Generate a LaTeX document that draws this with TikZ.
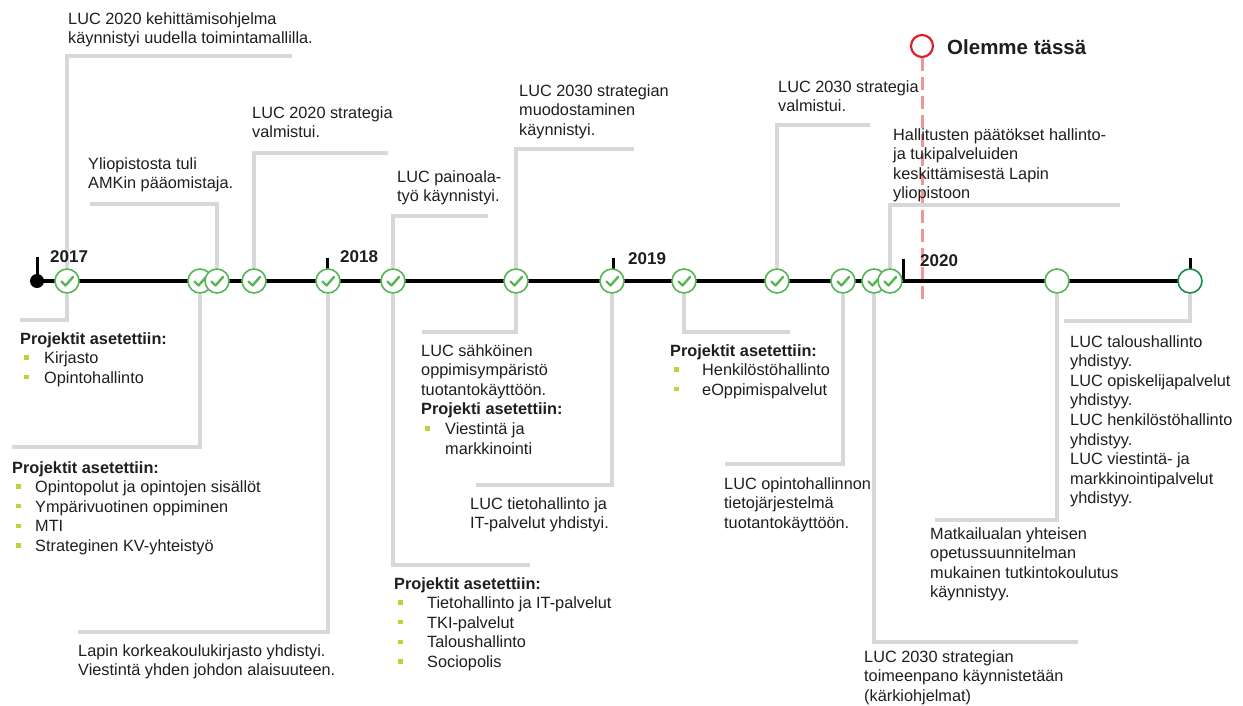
\documentclass[tikz,border=0pt]{standalone}
\usepackage{fontspec}
\setmainfont{Liberation Sans}
\usetikzlibrary{positioning}

\definecolor{txtcol}{RGB}{30,30,30}
\definecolor{linegray}{RGB}{216,216,216}
\definecolor{chkgreen}{RGB}{86,182,86}
\definecolor{endgreen}{RGB}{28,140,78}
\definecolor{herered}{RGB}{222,32,40}
\definecolor{dashred}{RGB}{240,150,150}
\definecolor{bulcol}{RGB}{186,212,58}

% bullet with text indent
\newcommand{\blt}[1]{\makebox[#1][l]{\hspace*{4pt}\textcolor{bulcol}{\rule[3.8pt]{4.5pt}{4.5pt}}}}

\begin{document}
\begin{tikzpicture}[
        x=1pt, y=-1pt,
        txt/.style={anchor=north west, inner sep=0pt, align=left, text=txtcol,
            font=\fontsize{16.3}{19.6}\selectfont},
        year/.style={anchor=west, inner sep=0pt, text=txtcol,
            font=\fontsize{17}{20}\selectfont\bfseries},
        check/.style={circle, draw=chkgreen, fill=white, line width=1.6pt,
            minimum size=24pt, inner sep=0pt,
            path picture={\draw[chkgreen, line width=2.4pt, line cap=round, line join=round]
                ([shift={(-5.5,0.5)}]path picture bounding box.center) -- ++(4,4) -- ++(7.5,-8.5);}},
        planned/.style={circle, draw=chkgreen, fill=white, line width=1.6pt,
            minimum size=24pt, inner sep=0pt},
        conn/.style={draw=linegray, line width=3.5pt},
        yeartick/.style={line width=3pt, black}
    ]
    \useasboundingbox (0,0) rectangle (1243,705);

    % We are here
    \node[circle, draw=herered, line width=2.2pt, minimum size=22pt, inner sep=0pt] (here) at (922,46) {};
    \node[anchor=west, inner sep=0pt, text=txtcol, font=\fontsize{20.5}{24}\selectfont\bfseries] (heretxt) at (947,47) {Olemme tässä};
    \coordinate (hereend) at (922,302);
    \draw[dashred, line width=3pt, dash pattern=on 13pt off 6pt] (here) -- (hereend);

    % Timeline
    \coordinate (tstart) at (37,281);
    \coordinate (tend) at (1190,281);
    \draw[line width=4.8pt] (tstart) -- (tend);
    \node[circle, fill=black, minimum size=14pt, inner sep=0pt] (s0) at (tstart) {};
    \foreach \x/\top in {37/257, 327/258, 613/258, 903/259, 1190/258}
        \draw[yeartick] (\x,281) -- (\x,\top);

    \foreach \x [count=\i] in {67,200,217,254,328,393,516,612,684,777,843,874,890}
        \node[check] (c\i) at (\x,281) {};
    \node[planned] (e1) at (1057,281) {};
    \node[planned, draw=endgreen] (e2) at (tend) {};

    % Connectors above
    \coordinate (a1) at (292,56);
    \coordinate (a2) at (90,204);
    \coordinate (a3) at (388,153);
    \coordinate (a4) at (488,216);
    \coordinate (a5) at (634,149);
    \coordinate (a6) at (870,125);
    \coordinate (a7) at (1120,205);
    \draw[conn] (c1) |- (a1);
    \draw[conn] (c3) |- (a2);
    \draw[conn] (c4) |- (a3);
    \draw[conn] (c6) |- (a4);
    \draw[conn] (c7) |- (a5);
    \draw[conn] (c10) |- (a6);
    \draw[conn] (c13) |- (a7);

    % Connectors below
    \coordinate (b1) at (20,320);
    \coordinate (b2) at (12,447);
    \coordinate (b3) at (78,632);
    \coordinate (b4) at (530,565);
    \coordinate (b5) at (422,332);
    \coordinate (b6) at (476,485);
    \coordinate (b7) at (790,332);
    \coordinate (b8) at (725,464);
    \coordinate (b9) at (1078,642);
    \coordinate (b10) at (935,520);
    \coordinate (b11) at (1064,321);
    \draw[conn] (c1) |- (b1);
    \draw[conn] (c2) |- (b2);
    \draw[conn] (c5) |- (b3);
    \draw[conn] (c6) |- (b4);
    \draw[conn] (c7) |- (b5);
    \draw[conn] (c8) |- (b6);
    \draw[conn] (c9) |- (b7);
    \draw[conn] (c11) |- (b8);
    \draw[conn] (c12) |- (b9);
    \draw[conn] (e1) |- (b10);
    \draw[conn] (e2) |- (b11);

    % Years
    \node[year] (y17) at (50,257) {2017};
    \node[year] (y18) at (340,257) {2018};
    \node[year] (y19) at (628,259) {2019};
    \node[year] (y20) at (920,261) {2020};

    % Texts above
    \node[txt] (ta1) at (68,12) {LUC 2020 kehittämisohjelma\\käynnistyi uudella toimintamallilla.};
    \node[txt] (ta2) at (88,157) {Yliopistosta tuli\\AMKin pääomistaja.};
    \node[txt] (ta3) at (252,106) {LUC 2020 strategia\\valmistui.};
    \node[txt] (ta4) at (397,170) {LUC painoala-\\työ käynnistyi.};
    \node[txt] (ta5) at (519,84) {LUC 2030 strategian\\muodostaminen\\käynnistyi.};
    \node[txt] (ta6) at (778,80) {LUC 2030 strategia\\valmistui.};
    \node[txt] (ta7) at (893,128) {Hallitusten päätökset hallinto-\\ja tukipalveluiden\\keskittämisestä Lapin\\yliopistoon};

    % Texts below
    \node[txt] (tb1) at (20,332) {\textbf{Projektit asetettiin:}\\\blt{24pt}Kirjasto\\\blt{24pt}Opintohallinto};
    \node[txt] (tb2) at (12,461) {\textbf{Projektit asetettiin:}\\\blt{23pt}Opintopolut ja opintojen sisällöt\\\blt{23pt}Ympärivuotinen oppiminen\\\blt{23pt}MTI\\\blt{23pt}Strateginen KV-yhteistyö};
    \node[txt] (tb3) at (78,644) {Lapin korkeakoulukirjasto yhdistyi.\\Viestintä yhden johdon alaisuuteen.};
    \node[txt] (tb4) at (394,577) {\textbf{Projektit asetettiin:}\\\blt{33pt}Tietohallinto ja IT-palvelut\\\blt{33pt}TKI-palvelut\\\blt{33pt}Taloushallinto\\\blt{33pt}Sociopolis};
    \node[txt] (tb5) at (421,344) {LUC sähköinen\\oppimisympäristö\\tuotantokäyttöön.\\\textbf{Projekti asetettiin:}\\\blt{24pt}Viestintä ja\\\hspace*{24pt}markkinointi};
    \node[txt] (tb6) at (470,497) {LUC tietohallinto ja\\IT-palvelut yhdistyi.};
    \node[txt] (tb7) at (670,344) {\textbf{Projektit asetettiin:}\\\blt{32pt}Henkilöstöhallinto\\\blt{32pt}eOppimispalvelut};
    \node[txt] (tb8) at (724,477) {LUC opintohallinnon\\tietojärjestelmä\\tuotantokäyttöön.};
    \node[txt] (tb9) at (864,650) {LUC 2030 strategian\\toimeenpano käynnistetään\\(kärkiohjelmat)};
    \node[txt] (tb10) at (930,527) {Matkailualan yhteisen\\opetussuunnitelman\\mukainen tutkintokoulutus\\käynnistyy.};
    \node[txt] (tb11) at (1070,335) {LUC taloushallinto\\yhdistyy.\\LUC opiskelijapalvelut\\yhdistyy.\\LUC henkilöstöhallinto\\yhdistyy.\\LUC viestintä- ja\\markkinointipalvelut\\yhdistyy.};
\end{tikzpicture}
\end{document}
